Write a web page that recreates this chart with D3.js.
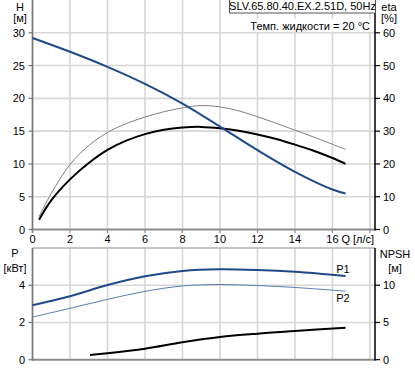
<!DOCTYPE html>
<html><head><meta charset="utf-8">
<script src="https://cdn.jsdelivr.net/npm/d3@7"></script>
<style>body{margin:0;background:#fff}svg{display:block;font-family:"Liberation Sans",Arial,sans-serif}</style>
</head><body><svg id="c" width="415" height="368"></svg>
<script>
// ---- data ----
const qTicks = [0,2,4,6,8,10,12,14,16];
const hTicks = [0,5,10,15,20,25,30];
const etaTicks = [0,10,20,30,40,50,60];
const pTicks = [0,2,4];
const npshTicks = [0,5,10];

const hQ = [0,2,4,6,8,10,12,14,16,16.7];
const hVal = [29.2,27.1,24.8,22.2,19.2,15.7,12.1,8.8,6.1,5.5];

const etaQ = [0.35,1,2,3,4,5,6,7,8,9,10,11,12,13,14,15,16,16.7];
const etaVal = [3.0,8.9,15.3,20.3,24.3,27.1,29.1,30.4,31.1,31.3,30.9,30.1,29.0,27.6,25.9,24.0,21.8,20.0];

const eta2Q = [0.35,1,2,3,4,5,6,7,8,9,10,11,12,13,14,15,16,16.7];
const eta2Val = [3.9,11.0,19.8,25.6,29.6,32.3,34.3,35.9,37.1,37.8,37.4,36.2,34.4,32.4,30.3,28.2,26.0,24.4];

const pQ = [0,2,4,6,8,10,12,14,16.7];
const p1Val = [2.93,3.41,4.01,4.48,4.77,4.86,4.82,4.72,4.49];
const p2Val = [2.29,2.76,3.24,3.67,3.96,4.04,3.98,3.88,3.68];

const npshQ = [3.07,4,6,8,10,12,14,16.7];
const npshVal = [0.63,0.86,1.48,2.34,3.05,3.50,3.85,4.30];

// ---- layout ----
const svg = d3.select("#c");
const L = 32.5, R = 375;
const x = d3.scaleLinear().domain([0,18.27]).range([L,R]);
const yH = d3.scaleLinear().domain([0,35]).range([229.5,0]);
const yEta = d3.scaleLinear().domain([0,70]).range([229.5,0]);
const yP = d3.scaleLinear().domain([0,6]).range([359.7,248]);
const yN = d3.scaleLinear().domain([0,15]).range([359.7,248]);

const blue = "#1f4a88", gridC = "#d6d6d6", axC = "#8c8c8c";
const fs = 11;

function grid(ys, yScale, top, bottom){
  const g = svg.append("g");
  g.selectAll("line.v").data(d3.range(0,19,2)).enter().append("line")
    .attr("x1",d=>x(d)).attr("x2",d=>x(d)).attr("y1",top).attr("y2",bottom)
    .attr("stroke",gridC).attr("stroke-width",1.6);
  g.selectAll("line.h").data(ys).enter().append("line")
    .attr("x1",L).attr("x2",R).attr("y1",d=>yScale(d)).attr("y2",d=>yScale(d))
    .attr("stroke",gridC).attr("stroke-width",1.6);
}
grid(hTicks.slice(1), yH, 0, 229.5);
grid(pTicks.slice(1), yP, 248, 359.7);
svg.append("line").attr("x1",L).attr("x2",R).attr("y1",248).attr("y2",248).attr("stroke","#b0b0b0").attr("stroke-width",1.5);

function hline(y){svg.append("line").attr("x1",L-1).attr("x2",R).attr("y1",y).attr("y2",y).attr("stroke",axC).attr("stroke-width",2);}
hline(229.5); hline(359.7);
svg.append("line").attr("x1",L).attr("x2",L).attr("y1",0).attr("y2",233).attr("stroke","#777").attr("stroke-width",1.6);
svg.append("line").attr("x1",L).attr("x2",L).attr("y1",248).attr("y2",360.5).attr("stroke","#777").attr("stroke-width",1.6);
svg.append("line").attr("x1",R).attr("x2",R).attr("y1",0).attr("y2",230.5).attr("stroke","#000").attr("stroke-width",1.5);
svg.append("line").attr("x1",R).attr("x2",R).attr("y1",248).attr("y2",360.5).attr("stroke","#000").attr("stroke-width",1.5);

svg.selectAll("line.xt").data(qTicks.concat([18])).enter().append("line")
  .attr("x1",d=>x(d)).attr("x2",d=>x(d)).attr("y1",229.5).attr("y2",233).attr("stroke",axC).attr("stroke-width",1.2);
svg.selectAll("text.xl").data(qTicks).enter().append("text")
  .attr("x",d=>x(d)).attr("y",243).attr("text-anchor","middle").attr("font-size",fs).text(d=>d);
svg.append("text").attr("x",x(16)+9).attr("y",243).attr("font-size",fs).text("Q [л/с]");

function leftAxis(ticks, sc){
  svg.selectAll(null).data(ticks).enter().append("line")
    .attr("x1",L-4).attr("x2",L).attr("y1",d=>sc(d)).attr("y2",d=>sc(d)).attr("stroke","#777").attr("stroke-width",1.2);
  svg.selectAll(null).data(ticks).enter().append("text")
    .attr("x",25).attr("y",d=>sc(d)+4).attr("text-anchor","end").attr("font-size",fs).text(d=>d);
}
function rightAxis(ticks, sc){
  svg.selectAll(null).data(ticks).enter().append("line")
    .attr("x1",R).attr("x2",R+5).attr("y1",d=>sc(d)).attr("y2",d=>sc(d)).attr("stroke","#000").attr("stroke-width",1.2);
  svg.selectAll(null).data(ticks).enter().append("text")
    .attr("x",383).attr("y",d=>sc(d)+4).attr("text-anchor","start").attr("font-size",fs).text(d=>d);
}
leftAxis(hTicks, yH); rightAxis(etaTicks, yEta);
leftAxis(pTicks, yP); rightAxis(npshTicks, yN);

function t(xp, yp, s, anchor){svg.append("text").attr("x",xp).attr("y",yp).attr("font-size",fs).attr("text-anchor",anchor||"middle").text(s);}
t(20,11,"H"); t(20,22,"[м]");
t(389,11,"eta"); t(389,22,"[%]");
t(15,257,"P"); t(15,272,"[кВт]");
t(395,258,"NPSH"); t(395,272,"[м]");

const line = (sy) => d3.line().x(d=>x(d[0])).y(d=>sy(d[1])).curve(d3.curveCatmullRom.alpha(0.5));
function draw(qs, vs, sy, color, w){
  svg.append("path").datum(qs.map((q,i)=>[q,vs[i]])).attr("d",line(sy))
    .attr("fill","none").attr("stroke",color).attr("stroke-width",w);
}
draw(eta2Q, eta2Val, yEta, "#808080", 1);
draw(etaQ, etaVal, yEta, "#000", 2);
draw(hQ, hVal, yH, blue, 2);
draw(pQ, p2Val, yP, "#5a7cae", 1);
draw(pQ, p1Val, yP, blue, 2);
draw(npshQ, npshVal, yN, "#000", 2);

t(343,273,"P1"); t(343,302,"P2");

svg.append("rect").attr("x",229.5).attr("y",-1).attr("width",146).attr("height",14)
  .attr("fill","#fff").attr("stroke","#555").attr("stroke-width",1);
t(302.5,10,"SLV.65.80.40.EX.2.51D, 50Hz");
svg.append("rect").attr("x",256).attr("y",19).attr("width",116).attr("height",13).attr("fill","#fff");
t(370,30,"Темп. жидкости = 20 °C","end");
</script></body></html>
